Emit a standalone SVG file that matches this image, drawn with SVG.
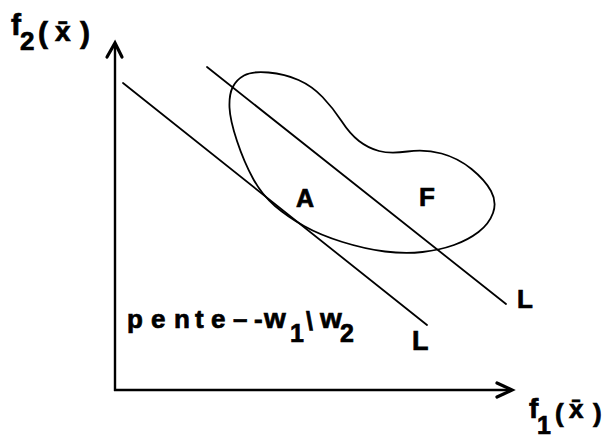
<svg xmlns="http://www.w3.org/2000/svg" width="607" height="439" viewBox="0 0 607 439">
<style>
.t{font-family:"Liberation Sans",Arial,sans-serif;font-weight:bold;fill:#000;stroke:#000;stroke-width:0.7}
.ln{stroke:#000;stroke-width:1.8;fill:none;stroke-linecap:round}
.ax{stroke:#000;stroke-width:2.4;fill:none}
.ah{stroke:#000;stroke-width:3.2;fill:none;stroke-linejoin:miter;stroke-linecap:round}
</style>
<rect width="607" height="439" fill="#fff"/>
<g id="axes">
<line class="ax" x1="115" y1="44" x2="115" y2="391"/>
<line class="ax" x1="114" y1="390" x2="511" y2="390"/>
<polyline class="ah" points="107,57 115,43 122,57"/>
<polyline class="ah" points="497,383 512,390 497,397"/>
</g>
<g id="label-f2">
<text class="t" y="35"><tspan x="11" font-size="30">f</tspan><tspan x="20" y="50" font-size="26">2</tspan><tspan x="38" y="43" font-size="30">(</tspan><tspan x="55" y="41" font-size="28">x̄</tspan><tspan x="80" y="43" font-size="30">)</tspan></text>
</g>
<g id="label-f1">
<text class="t" y="418"><tspan x="529" font-size="28">f</tspan><tspan x="537" y="434" font-size="25">1</tspan><tspan x="555" y="422" font-size="26">(</tspan><tspan x="569" y="418" font-size="26">x̄</tspan><tspan x="593" y="422" font-size="26">)</tspan></text>
</g>
<g id="region-F">
<path class="ln" d="M268.5,72.5 Q285,74 298.5,80 Q312,86 322.5,97 Q333,108 341.5,121 Q350,134 359,141 Q368,148 379,151 Q390,154 407.5,151.5 Q425,149 441.5,153.5 Q458,158 471.5,169 Q485,180 491,191 Q497,202 493,213 Q489,224 478.5,232 Q468,240 454,245 Q440,250 422.5,252 Q405,254 385,251.5 Q365,249 342.5,242 Q320,235 304,226 Q288,217 275,206 Q262,195 253,178.5 Q244,162 237,141 Q230,120 229.5,107.5 Q229,95 232.5,87.5 Q236,80 244,75.5 Q252,71 268.5,72.5 Z"/>
<text class="t" x="419" y="206" font-size="26">F</text>
</g>
<g id="point-A">
<text class="t" x="296" y="207" font-size="25">A</text>
</g>
<g id="connectors">
<line class="ln" x1="123" y1="83" x2="427" y2="325"/>
<line class="ln" x1="207" y1="67" x2="506" y2="304"/>
</g>
<g id="labels-L">
<text class="t" x="412" y="350" font-size="27">L</text>
<text class="t" x="517" y="308" font-size="26">L</text>
</g>
<g id="label-pente">
<text class="t" y="328" font-size="26"><tspan x="127">p</tspan><tspan x="151">e</tspan><tspan x="174">n</tspan><tspan x="195">t</tspan><tspan x="211">e</tspan><tspan x="233">–</tspan><tspan x="254">-</tspan><tspan x="264" font-size="28">w</tspan><tspan x="290" y="342" font-size="25">1</tspan><tspan x="306" y="330" font-size="25">\</tspan><tspan x="320" y="328" font-size="28">w</tspan><tspan x="340" y="342" font-size="25">2</tspan></text>
</g>
</svg>
